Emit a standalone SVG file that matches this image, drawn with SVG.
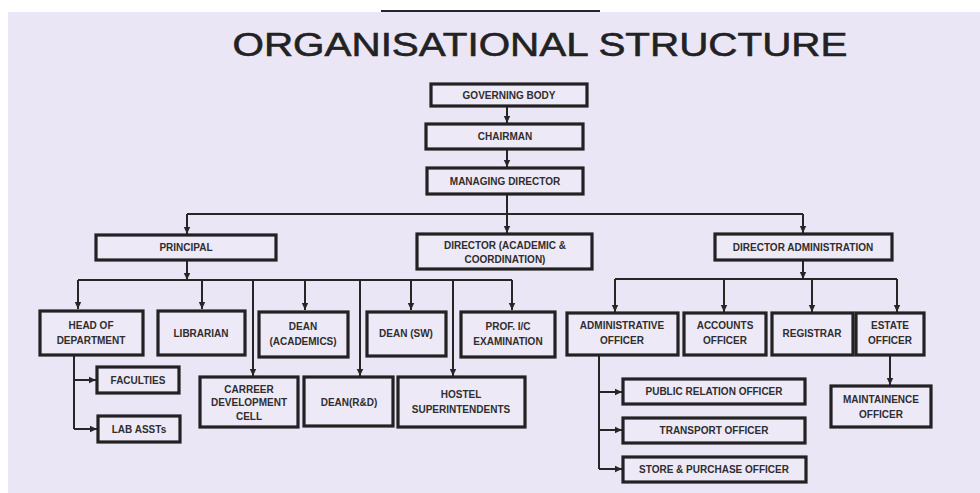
<svg xmlns="http://www.w3.org/2000/svg" width="980" height="493" viewBox="0 0 980 493">
<style>
.bx{fill:#eee9f7;stroke:#222;stroke-width:3.2}
.t{font-family:"Liberation Sans",Arial,sans-serif;font-weight:bold;font-size:10px;fill:#2e2e2e;text-anchor:middle}
.c line,.c path{stroke:#262626;stroke-width:2;fill:none}
.title{font-family:"Liberation Sans",Arial,sans-serif;font-size:34px;fill:#222;stroke:#222;stroke-width:0.6;text-anchor:middle}
</style>
<defs>
<marker id="ah" markerUnits="userSpaceOnUse" markerWidth="8" markerHeight="8" refX="7" refY="4" orient="auto">
<path d="M0,0.8 L7,4 L0,7.2 Z" fill="#262626"/>
</marker>
</defs>
<rect x="0" y="0" width="980" height="493" fill="#ffffff"/>
<rect x="8" y="12" width="972" height="481" fill="#ebe6f5"/>
<line x1="381" y1="11" x2="600" y2="11" stroke="#262626" stroke-width="2"/>
<text class="title" x="540" y="56" textLength="615" lengthAdjust="spacingAndGlyphs">ORGANISATIONAL STRUCTURE</text>

<g class="c" id="connectors">
<line x1="507" y1="106" x2="507" y2="123" marker-end="url(#ah)"/>
<line x1="507" y1="149" x2="507" y2="167" marker-end="url(#ah)"/>
<line x1="507" y1="194" x2="507" y2="214"/>
<line x1="187" y1="214" x2="803" y2="214"/>
<line x1="187" y1="214" x2="187" y2="234" marker-end="url(#ah)"/>
<line x1="507" y1="214" x2="507" y2="233" marker-end="url(#ah)"/>
<line x1="803" y1="214" x2="803" y2="233" marker-end="url(#ah)"/>

<line x1="187" y1="260" x2="187" y2="280" marker-end="url(#ah)"/>
<line x1="78" y1="280" x2="512" y2="280"/>
<line x1="78" y1="280" x2="78" y2="309" marker-end="url(#ah)"/>
<line x1="202" y1="280" x2="202" y2="309" marker-end="url(#ah)"/>
<line x1="253" y1="280" x2="253" y2="376" marker-end="url(#ah)"/>
<line x1="305" y1="280" x2="305" y2="310" marker-end="url(#ah)"/>
<line x1="360" y1="280" x2="360" y2="376" marker-end="url(#ah)"/>
<line x1="411" y1="280" x2="411" y2="310" marker-end="url(#ah)"/>
<line x1="453" y1="280" x2="453" y2="376" marker-end="url(#ah)"/>
<line x1="512" y1="280" x2="512" y2="310" marker-end="url(#ah)"/>

<line x1="803" y1="260" x2="803" y2="279" marker-end="url(#ah)"/>
<line x1="615" y1="279" x2="897" y2="279"/>
<line x1="615" y1="279" x2="615" y2="312" marker-end="url(#ah)"/>
<line x1="724" y1="279" x2="724" y2="312" marker-end="url(#ah)"/>
<line x1="812" y1="279" x2="812" y2="312" marker-end="url(#ah)"/>
<line x1="897" y1="279" x2="897" y2="312" marker-end="url(#ah)"/>

<path d="M74,355 V429"/>
<line x1="74" y1="380" x2="96" y2="380" marker-end="url(#ah)"/>
<line x1="74" y1="429" x2="97" y2="429" marker-end="url(#ah)"/>

<path d="M599,355 V469"/>
<line x1="599" y1="392" x2="622" y2="392" marker-end="url(#ah)"/>
<line x1="599" y1="430" x2="622" y2="430" marker-end="url(#ah)"/>
<line x1="599" y1="469" x2="622" y2="469" marker-end="url(#ah)"/>

<line x1="890" y1="355" x2="890" y2="385" marker-end="url(#ah)"/>
</g>

<g id="governing-body"><rect class="bx" x="431" y="84" width="156" height="22"/><text class="t" x="509" y="99">GOVERNING BODY</text></g>
<g id="chairman"><rect class="bx" x="426" y="124" width="157" height="25"/><text class="t" x="505" y="140">CHAIRMAN</text></g>
<g id="managing-director"><rect class="bx" x="427" y="168" width="156" height="26"/><text class="t" x="505" y="185">MANAGING DIRECTOR</text></g>

<g id="principal"><rect class="bx" x="96" y="235" width="180" height="25"/><text class="t" x="186" y="251">PRINCIPAL</text></g>
<g id="director-academic"><rect class="bx" x="417" y="234" width="175" height="35"/><text class="t" x="505" y="249">DIRECTOR (ACADEMIC &amp;</text><text class="t" x="505" y="263">COORDINATION)</text></g>
<g id="director-administration"><rect class="bx" x="715" y="234" width="177" height="26"/><text class="t" x="803" y="251">DIRECTOR ADMINISTRATION</text></g>

<g id="head-of-department"><rect class="bx" x="40" y="311" width="103" height="44"/><text class="t" x="91" y="329">HEAD OF</text><text class="t" x="91" y="344">DEPARTMENT</text></g>
<g id="librarian"><rect class="bx" x="158" y="311" width="87" height="44"/><text class="t" x="201" y="337">LIBRARIAN</text></g>
<g id="dean-academics"><rect class="bx" x="259" y="312" width="89" height="45"/><text class="t" x="303" y="330">DEAN</text><text class="t" x="303" y="345">(ACADEMICS)</text></g>
<g id="dean-sw"><rect class="bx" x="367" y="312" width="79" height="44"/><text class="t" x="406" y="337">DEAN (SW)</text></g>
<g id="prof-ic-examination"><rect class="bx" x="461" y="312" width="94" height="45"/><text class="t" x="508" y="330">PROF. I/C</text><text class="t" x="508" y="345">EXAMINATION</text></g>

<g id="faculties"><rect class="bx" x="97" y="367" width="82" height="26"/><text class="t" x="138" y="384">FACULTIES</text></g>
<g id="lab-assts"><rect class="bx" x="98" y="416" width="82" height="26"/><text class="t" x="139" y="433">LAB ASSTs</text></g>

<g id="career-development-cell"><rect class="bx" x="200" y="377" width="98" height="50"/><text class="t" x="249" y="393">CARREER</text><text class="t" x="249" y="406">DEVELOPMENT</text><text class="t" x="249" y="420">CELL</text></g>
<g id="dean-rd"><rect class="bx" x="304" y="377" width="89" height="49"/><text class="t" x="349" y="406">DEAN(R&amp;D)</text></g>
<g id="hostel-superintendents"><rect class="bx" x="398" y="377" width="127" height="50"/><text class="t" x="461" y="398">HOSTEL</text><text class="t" x="461" y="413">SUPERINTENDENTS</text></g>

<g id="administrative-officer"><rect class="bx" x="567" y="313" width="111" height="42"/><text class="t" x="622" y="329">ADMINISTRATIVE</text><text class="t" x="622" y="344">OFFICER</text></g>
<g id="accounts-officer"><rect class="bx" x="684" y="313" width="82" height="42"/><text class="t" x="725" y="329">ACCOUNTS</text><text class="t" x="725" y="344">OFFICER</text></g>
<g id="registrar"><rect class="bx" x="772" y="313" width="81" height="42"/><text class="t" x="812" y="337">REGISTRAR</text></g>
<g id="estate-officer"><rect class="bx" x="856" y="313" width="68" height="42"/><text class="t" x="890" y="329">ESTATE</text><text class="t" x="890" y="344">OFFICER</text></g>

<g id="public-relation-officer"><rect class="bx" x="623" y="379" width="182" height="25"/><text class="t" x="714" y="395">PUBLIC RELATION OFFICER</text></g>
<g id="transport-officer"><rect class="bx" x="623" y="418" width="182" height="25"/><text class="t" x="714" y="434">TRANSPORT OFFICER</text></g>
<g id="store-purchase-officer"><rect class="bx" x="623" y="457" width="183" height="25"/><text class="t" x="714" y="473">STORE &amp; PURCHASE OFFICER</text></g>
<g id="maintainence-officer"><rect class="bx" x="831" y="386" width="100" height="41"/><text class="t" x="881" y="403">MAINTAINENCE</text><text class="t" x="881" y="418">OFFICER</text></g>
</svg>
